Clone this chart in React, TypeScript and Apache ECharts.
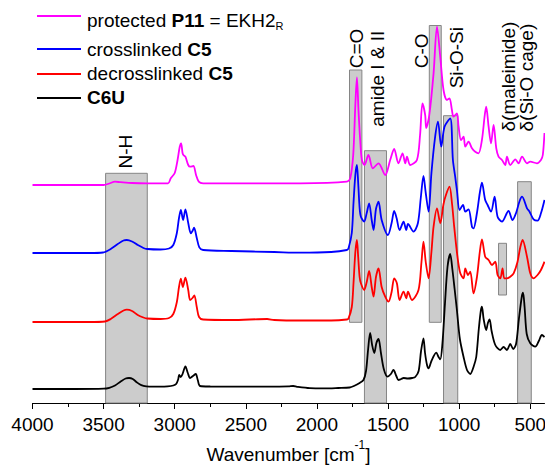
import React, { useEffect, useRef } from "react";
import * as echarts from "echarts";

const FONT = '"Liberation Sans", Arial, Helvetica, sans-serif';

// x-axis ticks (wavenumber, cm-1)
const majorTicks = [4000, 3500, 3000, 2500, 2000, 1500, 1000, 500];
const minorTicks = [3750, 3250, 2750, 2250, 1750, 1250, 750];

// series meta
const seriesNames = ["protected P11 = EKH2R", "crosslinked C5", "decrosslinked C5", "C6U"];
const seriesColors = ["#ff00ff", "#0000ff", "#ff0000", "#000000"];
const seriesOffsets = [218, 150, 81, 14];
const legendTexts = [
  "protected {b|P11} = EKH2{s|R}",
  "crosslinked {b|C5}",
  "decrosslinked {b|C5}",
  "{b|C6U}",
];

// spectra: [wavenumber, intensity above own baseline]
const p11Spectrum = [
  [4000, 0], [3500, 0], [3460, 1.5], [3420, 3.3], [3380, 2.8], [3300, 2], [3194, 1.7], [3100, 1.7],
  [3047, 1.7], [3028, 6.7], [3000, 12], [2980, 25], [2965, 38], [2955, 41.7], [2945, 32], [2939, 30],
  [2925, 28.3], [2905, 20], [2892, 18.3], [2869, 19], [2850, 10], [2831, 3.3], [2800, 1.7], [2500, 1.7],
  [2118, 1.7], [1790, 3.3], [1766, 6.7], [1745, 30], [1730, 80], [1719, 107.7], [1708, 75], [1696, 45],
  [1684, 25], [1666, 20], [1638, 30], [1607, 16.7], [1567, 21.7], [1520, 10], [1485, 25], [1457, 36],
  [1427, 21.7], [1398, 31.7], [1379, 21.7], [1367, 28.3], [1344, 20], [1297, 25], [1275, 50], [1258, 81.7],
  [1239, 70], [1232, 57], [1210, 70], [1180, 111.7], [1156, 158.3], [1133, 128.3], [1110, 95], [1086, 85],
  [1068, 86.7], [1051, 75], [1040, 68.3], [1016, 71.7], [1004, 58.3], [987, 45], [969, 48.3], [957, 38.3],
  [934, 43.3], [910, 36.7], [887, 33.3], [864, 31.7], [840, 45], [820, 70], [810, 78.3], [793, 58.3],
  [776, 41.7], [758, 60], [739, 36.7], [723, 28.3], [699, 25], [676, 20], [664, 28.3], [641, 20],
  [605, 25.7], [582, 21.7], [558, 28.3], [523, 21.7], [500, 23.3], [453, 21.7], [425, 25], [412, 30], [400, 52],
];

const c5Spectrum = [
  [4000, 0], [3600, 0], [3504, 0.5], [3450, 4], [3400, 9], [3360, 12.5], [3337, 13], [3300, 11.5],
  [3260, 8], [3220, 5], [3194, 4], [3100, 3.5], [3040, 4.5], [3010, 8], [2985, 20], [2970, 35],
  [2957, 43], [2941, 33], [2925, 43.7], [2905, 30], [2887, 19.7], [2875, 22], [2864, 25.3], [2845, 15],
  [2827, 5.7], [2800, 3], [2600, 2], [2300, 1], [2118, 0.3], [1900, 1], [1790, 3], [1778, 4.7],
  [1755, 20], [1743, 50], [1730, 78], [1719, 88], [1710, 70], [1700, 45], [1691, 36.3], [1668, 31.3],
  [1650, 40], [1633, 49.7], [1615, 33], [1602, 23], [1585, 44], [1567, 51.3], [1545, 33], [1501, 18],
  [1475, 30], [1457, 42], [1440, 35], [1419, 23], [1391, 31.3], [1372, 23], [1360, 29], [1321, 21.3],
  [1290, 30], [1270, 55], [1251, 77], [1235, 60], [1215, 41.3], [1195, 80], [1170, 115], [1149, 131.3],
  [1126, 106.3], [1103, 126.3], [1063, 134.7], [1044, 93], [1028, 76.3], [1016, 63], [997, 43], [973, 48],
  [957, 41.3], [934, 43.7], [910, 26.3], [899, 24.7], [875, 40], [855, 60], [840, 70.3], [817, 53],
  [800, 48], [776, 41.3], [751, 56.3], [730, 36.3], [699, 31.3], [653, 42], [625, 33], [600, 40],
  [575, 52], [558, 56.3], [523, 44.7], [505, 41.3], [477, 33.7], [449, 32.3], [425, 39.7], [400, 53],
];

const c5DecrossSpectrum = [
  [4000, 0], [3600, 0], [3490, 0.5], [3450, 3], [3400, 8], [3360, 11.5], [3337, 12.4], [3300, 11],
  [3260, 7], [3220, 4.5], [3194, 3.5], [3100, 3], [3040, 4], [3010, 8], [2985, 20], [2970, 35],
  [2957, 43.4], [2943, 35], [2925, 44.4], [2905, 32], [2892, 22], [2875, 24], [2862, 26.7], [2845, 15],
  [2829, 5], [2800, 2.5], [2600, 2], [2350, 3], [2300, 2], [2118, 1.5], [1900, 1.5], [1790, 2.5],
  [1778, 3.7], [1755, 15], [1743, 38.7], [1730, 70], [1719, 82], [1710, 65], [1700, 45], [1691, 38.7],
  [1668, 32], [1650, 40], [1633, 51], [1615, 35], [1602, 25.3], [1585, 45], [1567, 53.7], [1545, 35],
  [1520, 25.3], [1497, 20.3], [1475, 30], [1457, 43.7], [1438, 38.7], [1419, 22], [1391, 30.3], [1372, 23.7],
  [1360, 30.3], [1332, 22], [1286, 32], [1265, 60], [1251, 80.3], [1235, 60], [1215, 43.7], [1195, 70],
  [1180, 95.3], [1156, 113.7], [1133, 98.7], [1110, 118], [1093, 127], [1068, 135.3], [1050, 118], [1035, 95.3],
  [1012, 65.3], [992, 48.7], [969, 43.7], [957, 53.7], [938, 47], [922, 50.3], [899, 28.7], [875, 45],
  [855, 70], [840, 82.7], [817, 65.3], [793, 62], [769, 57], [746, 60.3], [730, 47], [711, 43.7],
  [695, 53.7], [683, 43.7], [664, 43.7], [641, 45.3], [617, 48.7], [590, 60], [570, 75], [554, 82],
  [523, 65.3], [500, 48.7], [477, 43.7], [449, 47], [425, 52], [400, 60.3],
];

const c6uSpectrum = [
  [4000, 0], [3700, 0], [3500, 0.3], [3460, 1.2], [3420, 3.5], [3380, 7.5], [3345, 10.5], [3321, 11],
  [3295, 10], [3265, 6.5], [3235, 3.8], [3200, 2.6], [3150, 2.3], [3100, 2.3], [3050, 2.6], [3010, 3.5],
  [2990, 5], [2975, 10], [2969, 14], [2958, 12], [2945, 15], [2925, 22.5], [2908, 16], [2892, 11],
  [2872, 13], [2852, 15], [2838, 9], [2822, 3], [2750, 2.5], [2500, 2.3], [2300, 2.4], [2200, 2.6],
  [2167, 3], [2140, 2.2], [2050, 0.8], [1950, 0.6], [1850, 1], [1770, 1.5], [1740, 3], [1700, 6],
  [1673, 9], [1655, 18], [1640, 40], [1626, 56], [1612, 44], [1597, 36], [1582, 46], [1567, 50],
  [1550, 36], [1530, 20], [1504, 12.3], [1480, 15], [1462, 19], [1442, 13], [1427, 9], [1408, 10],
  [1391, 11], [1360, 10.5], [1330, 11], [1309, 12], [1285, 18], [1268, 38], [1251, 50.7], [1240, 36],
  [1226, 24], [1215, 20.7], [1195, 28], [1161, 36.3], [1145, 32], [1133, 29.7], [1118, 45], [1100, 85],
  [1082, 122], [1063, 135], [1048, 120], [1032, 100], [1016, 79], [995, 50], [969, 32], [945, 19],
  [922, 15], [899, 22], [880, 32], [862, 60], [848, 78], [840, 82.3], [828, 70], [810, 59],
  [798, 66], [786, 69.7], [772, 58], [746, 44], [711, 39], [688, 42], [664, 39], [641, 45],
  [620, 40], [600, 45], [580, 70], [560, 92], [551, 96.3], [540, 82], [525, 55], [500, 45.7],
  [465, 42.3], [440, 48], [418, 54], [400, 52],
];

const spectra = [p11Spectrum, c5Spectrum, c5DecrossSpectrum, c6uSpectrum];

// highlighted bands: [wavenumber from, wavenumber to, bottom, top]
const bands = [
  [3486, 3193, 0, 229.7],
  [1771, 1684, 80.7, 333],
  [1666, 1511, 0, 252.3],
  [1210, 1126, 80.7, 377.5],
  [1110, 1010, 0, 287.3],
  [723, 667, 108, 159.7],
  [589, 493, 0, 221.3],
];

// band annotations: text + anchor [wavenumber, level]
const bandLabels = ["N-H", "C=O", "amide I & II", "C-O", "Si-O-Si", "δ(maleimide)", "δ(Si-O cage)"];
const bandLabelAnchors = [
  [3344, 234.5],
  [1719, 334.7],
  [1576, 276.3],
  [1262, 334.7],
  [1022, 314.7],
  [655, 271.5],
  [528, 271.5],
];

const legendLineY = [16, 49, 74, 98];
const legendTextY = [20.5, 49.5, 73.5, 97.7];

export default function App() {
  const ref = useRef<HTMLDivElement>(null);

  useEffect(() => {
    if (!ref.current) return;
    const chart = echarts.init(ref.current, null, { renderer: "svg" });

    const lineSeries = spectra.map((sp, i) => ({
      type: "line",
      name: seriesNames[i],
      data: sp.map(([w, h]) => [w, seriesOffsets[i] + h]),
      showSymbol: false,
      symbol: "none",
      smooth: 0.3,
      z: 5 + i,
      lineStyle: { color: seriesColors[i], width: 1.8 },
      itemStyle: { color: seriesColors[i] },
    }));

    const richB = { fontWeight: "bold", fontSize: 19, fontFamily: FONT, fill: "#000" };
    const richS = { fontSize: 11, fontFamily: FONT, fill: "#000", verticalAlign: "bottom", lineHeight: 6 };

    const graphic: any[] = [];
    seriesNames.forEach((_, i) => {
      graphic.push({
        type: "line",
        shape: { x1: 37, y1: legendLineY[i], x2: 81, y2: legendLineY[i] },
        style: { stroke: seriesColors[i], lineWidth: 2 },
      });
      graphic.push({
        type: "text",
        x: 87,
        y: legendTextY[i],
        style: {
          text: legendTexts[i],
          fontSize: 19,
          fontFamily: FONT,
          fill: "#000",
          align: "left",
          verticalAlign: "middle",
          lineHeight: 22,
          rich: { b: richB, s: richS },
        },
      });
    });

    const option: any = {
      animation: false,
      backgroundColor: "#ffffff",
      grid: { left: 32.5, right: 0.5, top: 0, bottom: 63, containLabel: false, outerBoundsMode: "none" },
      xAxis: [
        {
          type: "value",
          min: 400,
          max: 4000,
          inverse: true,
          splitNumber: 7,
          position: "bottom",
          axisLine: { show: true, lineStyle: { color: "#000", width: 1 } },
          axisTick: { show: true, inside: false, length: 6, customValues: majorTicks, lineStyle: { color: "#000", width: 1 } },
          axisLabel: {
            customValues: majorTicks,
            margin: 12,
            fontSize: 19,
            color: "#000",
            fontFamily: FONT,
            formatter: (v: number) => String(v),
          },
          splitLine: { show: false },
          name: "Wavenumber [cm{sup|-1}]",
          nameLocation: "middle",
          nameGap: 36,
          nameTextStyle: {
            fontSize: 19,
            color: "#000",
            fontFamily: FONT,
            lineHeight: 30,
            rich: { sup: { fontSize: 12, color: "#000", fontFamily: FONT, verticalAlign: "top", lineHeight: 10 } },
          },
        },
        {
          type: "value",
          min: 400,
          max: 4000,
          inverse: true,
          position: "bottom",
          axisLine: { show: false },
          axisTick: { show: true, inside: false, length: 4, customValues: minorTicks, lineStyle: { color: "#000", width: 1 } },
          axisLabel: { show: false },
          splitLine: { show: false },
        },
      ],
      yAxis: { type: "value", min: 0, max: 403, show: false },
      series: [
        {
          type: "custom",
          name: "bands",
          z: 1,
          data: bands,
          encode: { x: [0, 1], y: [2, 3] },
          renderItem: (params: any, api: any) => {
            const a = api.coord([api.value(0), api.value(3)]);
            const b = api.coord([api.value(1), api.value(2)]);
            return {
              type: "rect",
              shape: {
                x: Math.min(a[0], b[0]),
                y: Math.min(a[1], b[1]),
                width: Math.abs(b[0] - a[0]),
                height: Math.abs(b[1] - a[1]),
              },
              style: { fill: "#cccccc", stroke: "#858585", lineWidth: 1 },
            };
          },
        },
        ...lineSeries,
        {
          type: "custom",
          name: "bandLabels",
          z: 20,
          data: bandLabelAnchors,
          encode: { x: 0, y: 1 },
          renderItem: (params: any, api: any) => {
            const p = api.coord([api.value(0), api.value(1)]);
            return {
              type: "text",
              x: p[0],
              y: p[1],
              rotation: Math.PI / 2,
              style: {
                text: bandLabels[params.dataIndex],
                fontSize: 19,
                fontFamily: FONT,
                fill: "#000",
                align: "left",
                verticalAlign: "middle",
              },
            };
          },
        },
      ],
      graphic,
    };

    chart.setOption(option);
    return () => {
      chart.dispose();
    };
  }, []);

  return (
    <div
      ref={ref}
      style={{ position: "fixed", left: 0, top: 0, width: 545, height: 466, background: "#fff" }}
    />
  );
}
